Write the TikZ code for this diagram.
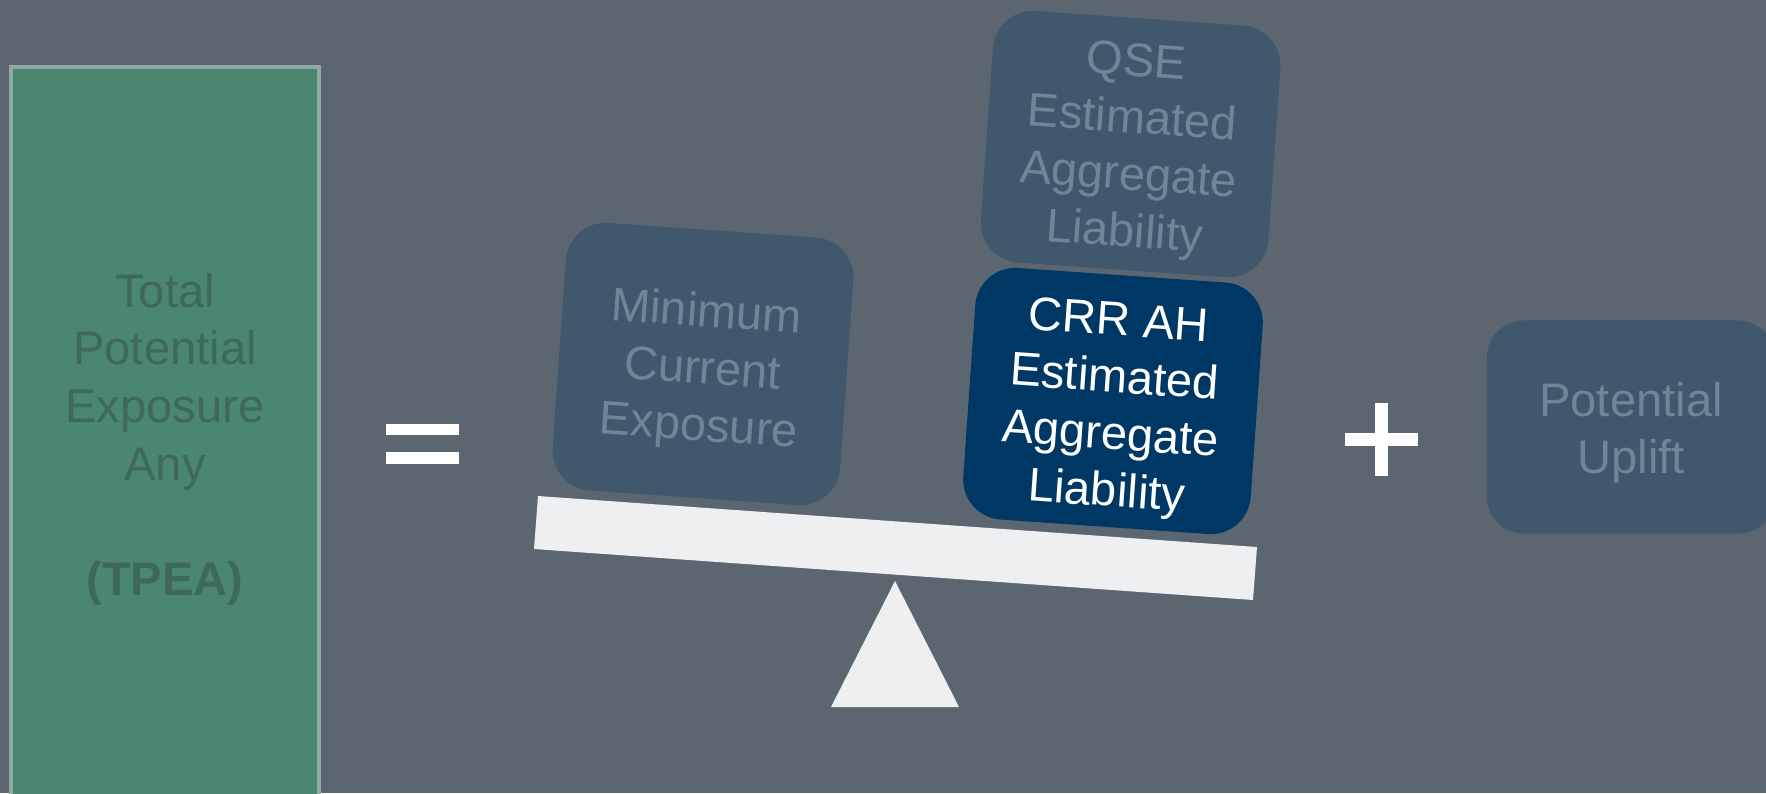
\documentclass[tikz,border=0pt]{standalone}
\usepackage{fontspec}
\setmainfont{Liberation Sans}
\usetikzlibrary{positioning}
\definecolor{bgslate}{HTML}{5B6670}
\definecolor{tpeafill}{HTML}{4A8670}
\definecolor{tpeaedge}{HTML}{8FA9A4}
\definecolor{tpeatext}{HTML}{3E685B}
\definecolor{tilefill}{HTML}{40576C}
\definecolor{tiletext}{HTML}{6E8798}
\definecolor{navyfill}{HTML}{003865}
\definecolor{plankgray}{HTML}{EEEFF1}
\newcommand{\tilepad}[1]{\rule{0pt}{#1}}

\begin{document}
\begin{tikzpicture}[
  x=0.01cm, y=-0.01cm,
  font=\fontsize{13.4pt}{16.2pt}\selectfont,
  tile/.style={fill=tilefill, text=tiletext, rounded corners=0.4cm,
               minimum width=2.88cm, inner sep=0pt, align=center},
  tilt/.style={tile, rotate=-4},
  sign/.style={fill=white, draw=none}
]
  %--- canvas ---
  \fill[bgslate] (0,0) rectangle (1766,793);
  \clip (0,0) rectangle (1766,793);

  %--- left column ---
  \node[fill=tpeafill, draw=tpeaedge, line width=1.1pt, text=tpeatext,
        minimum width=3.07cm, minimum height=7.44cm, inner sep=0pt,
        align=center, font=\fontsize{13.4pt}{16.4pt}\selectfont]
    (tpea) at (165,439) {Total\\Potential\\Exposure\\Any\\[16.4pt]\textbf{(TPEA)}};

  %--- equals ---
  \fill[sign] (386,424) rectangle (459,435);
  \fill[sign] (386,452) rectangle (459,464);

  %--- seesaw ---
  \fill[plankgray] (538,496) -- (1257,547) -- (1253,600) -- (534,549) -- cycle;
  \fill[plankgray] (895,581) -- (959,707) -- (831,707) -- cycle;

  %--- tiles on the plank ---
  \node[tilt, minimum height=2.68cm] (mce) at (703,364)
    {\tilepad{14pt}Minimum\\Current\\Exposure};
  \node[tilt, minimum height=2.52cm, fill=navyfill, text=white]
    (crr) at (1113,401) {\tilepad{14pt}CRR AH\\Estimated\\Aggregate\\Liability};
  \node[tilt, minimum height=2.52cm, above=0.04cm of crr] (qse)
    {\tilepad{12.6pt}QSE\\Estimated\\Aggregate\\Liability};

  %--- plus ---
  \fill[sign] (1345,433) rectangle (1418,446);
  \fill[sign] (1375,403) rectangle (1388,476);

  %--- uplift ---
  \node[tile, rounded corners=0.37cm, minimum height=2.13cm]
    (uplift) at (1631,427) {\tilepad{13pt}Potential\\Uplift};
\end{tikzpicture}
\end{document}
